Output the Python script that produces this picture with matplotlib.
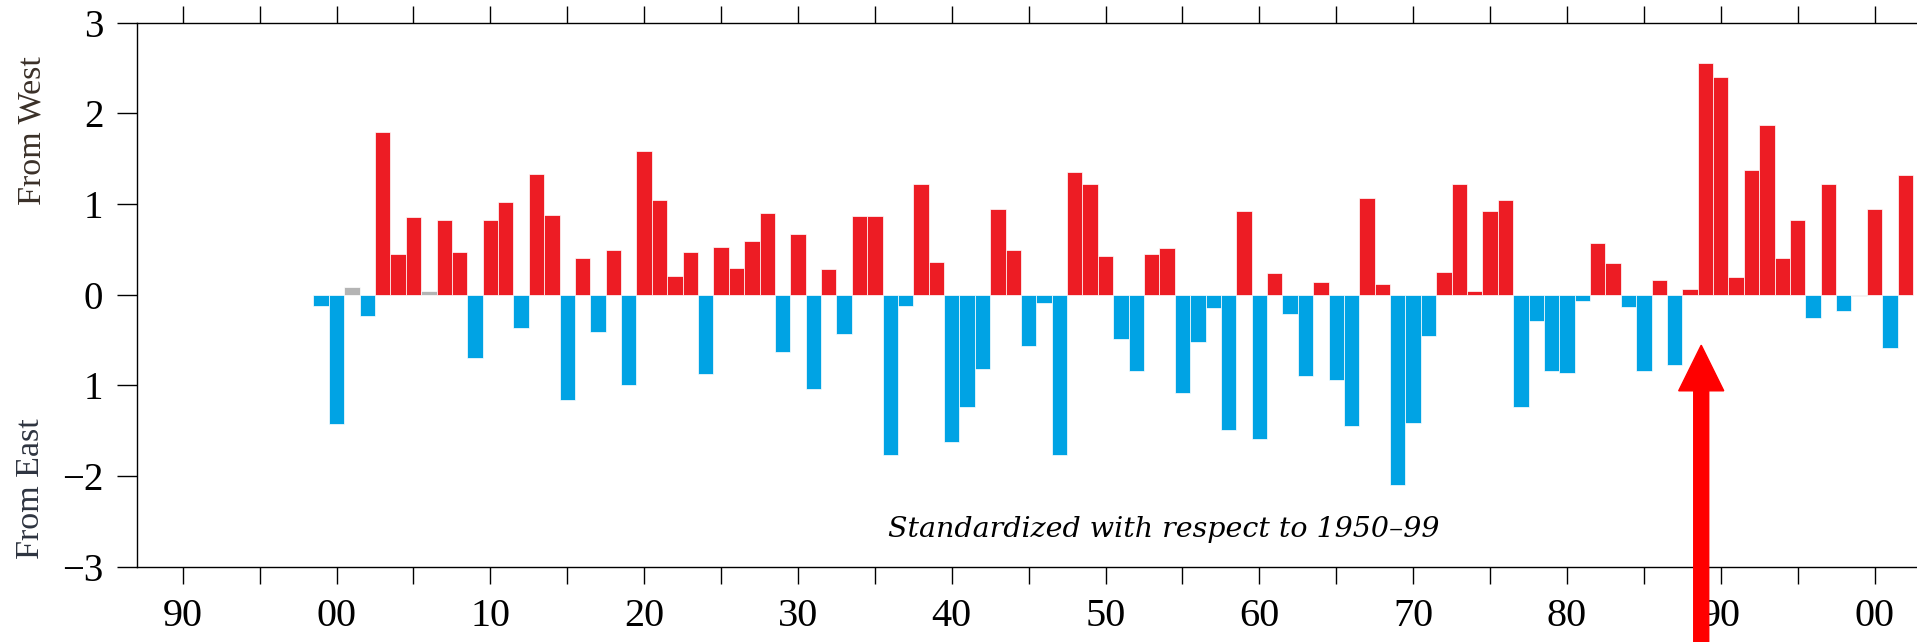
import matplotlib.pyplot as plt

# 数据：1899-2002 年逐年标准化指数
years = list(range(1899, 2003))
values = [
    -0.13,                                                        # 1899
    -1.43, 0.08, -0.23, 1.79, 0.45, 0.86, 0.04, 0.82, 0.47, -0.70,  # 1900-1909
    0.82, 1.02, -0.37, 1.33, 0.88, -1.16, 0.41, -0.41, 0.49, -1.00,  # 1910-1919
    1.59, 1.04, 0.21, 0.47, -0.87, 0.53, 0.29, 0.59, 0.90, -0.63,    # 1920-1929
    0.67, -1.04, 0.28, -0.43, 0.87, 0.87, -1.77, -0.12, 1.22, 0.36,  # 1930-1939
    -1.63, -1.24, -0.82, 0.94, 0.49, -0.57, -0.09, -1.77, 1.35, 1.22,  # 1940-1949
    0.43, -0.49, -0.84, 0.45, 0.51, -1.08, -0.52, -0.15, -1.49, 0.92,  # 1950-1959
    -1.59, 0.24, -0.21, -0.90, 0.14, -0.94, -1.45, 1.07, 0.12, -2.10,  # 1960-1969
    -1.41, -0.45, 0.25, 1.22, 0.04, 0.92, 1.04, -1.24, -0.29, -0.84,   # 1970-1979
    -0.86, -0.07, 0.57, 0.35, -0.14, -0.84, 0.16, -0.78, 0.06, 2.56,   # 1980-1989
    2.40, 0.19, 1.38, 1.87, 0.41, 0.82, -0.26, 1.22, -0.18, -0.01,     # 1990-1999
    0.94, -0.59, 1.32,                                                 # 2000-2002
]
gray_years = [1901, 1906, 1999]

y_ticks = [-3, -2, -1, 0, 1, 2, 3]
y_labels = ['\u22123', '\u22122', '1', '0', '1', '2', '3']
x_ticks = list(range(1890, 2005, 5))
x_labels = ['%02d' % (y % 100) if y % 10 == 0 else '' for y in x_ticks]

color_west = '#ED1C24'
color_east = '#00A3E4'
color_gray = '#B4B4B4'

colors = []
for yr, v in zip(years, values):
    if yr in gray_years:
        colors.append(color_gray)
    elif v >= 0:
        colors.append(color_west)
    else:
        colors.append(color_east)

plt.rcParams['font.family'] = ['Liberation Serif', 'DejaVu Serif']

fig = plt.figure(figsize=(19.17, 6.42), dpi=100)
ax = fig.add_axes([0.07167, 0.11729, 0.92833, 0.84735])

ax.bar(years, values, width=1.0, color=colors, edgecolor='white', linewidth=0.5, zorder=2)

ax.set_xlim(1887.05, 2002.76)
ax.set_ylim(-3, 3)

ax.set_yticks(y_ticks)
ax.set_yticklabels(y_labels)
ax.set_xticks(x_ticks)
ax.set_xticklabels(x_labels)

ax.spines['right'].set_visible(False)
for s in ['top', 'bottom', 'left']:
    ax.spines[s].set_linewidth(1.0)

ax.tick_params(axis='x', direction='out', top=True, length=12.5, width=1.0,
               labelsize=29, pad=10)
ax.tick_params(axis='y', direction='out', length=14.5, width=1.0,
               labelsize=28, pad=10)

# 说明文字
ax.text(1953.76, -2.595, 'Standardized with respect to 1950\u201399',
        fontsize=20.5, style='italic', family='DejaVu Serif', ha='center', va='center')

# 左侧方向标签
fig.text(0.017, 1 - 131 / 642, 'From West', rotation=90, fontsize=24.5,
         color='#3a3028', ha='center', va='center')
fig.text(0.016, 1 - 489 / 642, 'From East', rotation=90, fontsize=24.5,
         color='#2e3440', ha='center', va='center')

# 红色箭头
ax.arrow(1988.73, -4.0, 0, -0.557 + 4.0, width=0.975, head_width=2.93,
         head_length=0.503, length_includes_head=True, color='#FF0000',
         clip_on=False, zorder=10)

plt.savefig('out.png', dpi=100)
